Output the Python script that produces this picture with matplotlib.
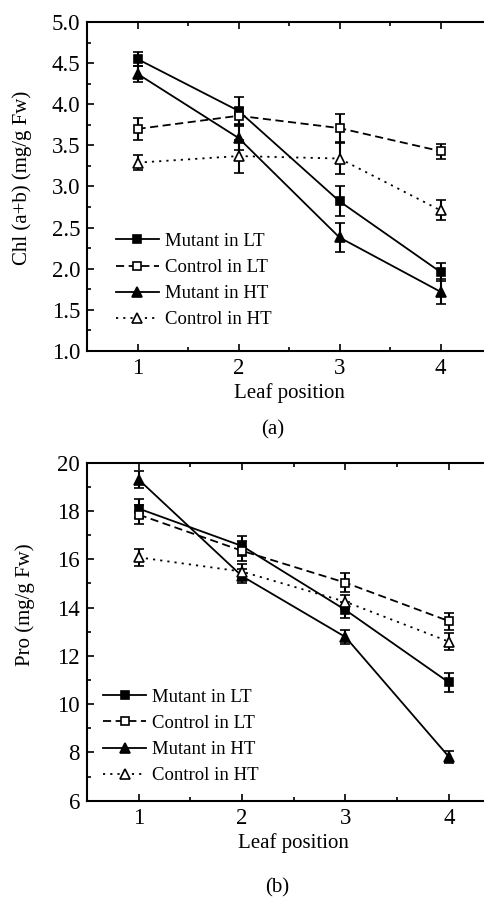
import matplotlib.pyplot as plt
from matplotlib.ticker import MultipleLocator
from matplotlib.lines import Line2D

plt.rcParams['font.family'] = 'Liberation Serif'
plt.rcParams['font.size'] = 14

# data
leaf = [1, 2, 3, 4]
labels = ['Mutant in LT', 'Control in LT', 'Mutant in HT', 'Control in HT']

chl = [
    [4.55, 3.92, 2.82, 1.96],
    [3.70, 3.86, 3.71, 3.43],
    [4.37, 3.59, 2.38, 1.72],
    [3.29, 3.37, 3.34, 2.71],
]
chl_err = [
    [0.08, 0.17, 0.18, 0.11],
    [0.13, 0.10, 0.17, 0.09],
    [0.10, 0.15, 0.18, 0.15],
    [0.09, 0.20, 0.19, 0.12],
]

pro = [
    [18.1, 16.55, 13.9, 10.9],
    [17.85, 16.35, 15.03, 13.44],
    [19.3, 15.3, 12.78, 7.82],
    [16.08, 15.49, 14.24, 12.59],
]
pro_err = [
    [0.38, 0.42, 0.35, 0.38],
    [0.40, 0.40, 0.40, 0.35],
    [0.35, 0.30, 0.28, 0.25],
    [0.36, 0.30, 0.30, 0.35],
]

# 线型和标记
styles = ['-', (0, (4.5, 2.5)), '-', (0, (1.2, 2.8))]
markers = ['s', 's', '^', '^']
faces = ['black', 'white', 'black', 'white']
msizes = [6, 5.5, 7, 6.5]

fig = plt.figure(figsize=(4.84, 8.99), dpi=100)
ax1 = fig.add_axes([0.1798, 0.6096, 0.8347, 0.3659])
ax2 = fig.add_axes([0.1798, 0.1093, 0.8544, 0.3760])


def draw(ax, vals, errs, ylim, major, minor, ylabel, labxy, tag, tagy, legx, legy):
    handles = []
    for i in range(len(labels)):
        ax.errorbar(leaf, vals[i], yerr=errs[i], color='black', linestyle=styles[i],
                    linewidth=1.3, marker=markers[i], markersize=msizes[i],
                    markerfacecolor=faces[i], markeredgecolor='black', markeredgewidth=1.2,
                    capsize=3.5, elinewidth=1.5, capthick=1.5)
        # 图例只画线和标记，不画误差棒
        handles.append(Line2D([], [], color='black', linestyle=styles[i], linewidth=1.3,
                              marker=markers[i], markersize=msizes[i],
                              markerfacecolor=faces[i], markeredgecolor='black',
                              markeredgewidth=1.2, label=labels[i]))
    ax.set_xlim(0.5, 4.5)
    ax.set_ylim(*ylim)
    ax.set_xticks(leaf)
    ax.xaxis.set_minor_locator(MultipleLocator(0.5))
    ax.yaxis.set_major_locator(MultipleLocator(major))
    ax.yaxis.set_minor_locator(MultipleLocator(minor))
    ax.tick_params(which='both', direction='in', top=True, right=False, width=1.2)
    ax.tick_params(which='major', length=5, labelsize=16.5, pad=5)
    ax.tick_params(which='minor', length=3)
    for s in ax.spines.values():
        s.set_linewidth(1.5)
    ax.set_xlabel('Leaf position', fontsize=15, labelpad=3)
    ax.set_ylabel(ylabel, fontsize=15)
    ax.yaxis.set_label_coords(*labxy)
    ax.text(0.46, tagy, tag, transform=ax.transAxes, ha='center', va='center', fontsize=15)
    ax.legend(handles=handles, loc='lower left', bbox_to_anchor=(legx, legy), frameon=False,
              fontsize=13.5, handlelength=2.3, handletextpad=0.3, labelspacing=0.48, borderpad=0)


draw(ax1, chl, chl_err, (1.0, 5.0), 0.5, 0.25, 'Chl (a+b) (mg/g Fw)', (-0.136, 0.526),
     '(a)', -0.24, 0.048, 0.04)
ax1.yaxis.set_major_formatter(plt.FormatStrFormatter('%.1f'))
draw(ax2, pro, pro_err, (6, 20), 2, 1, 'Pro (mg/g Fw)', (-0.126, 0.579),
     '(b)', -0.258, 0.016, 0.021)

plt.savefig('out.png', dpi=100)
